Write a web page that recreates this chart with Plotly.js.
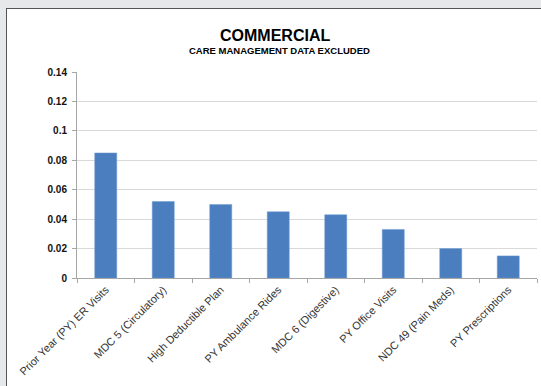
<!DOCTYPE html>
<html><head><meta charset="utf-8">
<script src="https://cdn.plot.ly/plotly-3.0.1.min.js"></script>
<style>
html,body{margin:0;padding:0;width:541px;height:386px;overflow:hidden;background:#e7e8ea;}
#frame{position:absolute;left:6px;top:8px;width:560px;height:400px;background:#fff;border:1px solid #555;box-sizing:border-box;}
#chart{position:absolute;left:0;top:0;width:541px;height:386px;}
</style></head>
<body><div id="frame"></div><div id="chart"></div>
<script>
const categories = ["Prior Year (PY) ER Visits","MDC 5 (Circulatory)","High Deductible Plan","PY Ambulance Rides","MDC 6 (Digestive)","PY Office Visits","NDC 49 (Pain Meds)","PY Prescriptions"];
const values = [0.085, 0.052, 0.050, 0.045, 0.043, 0.033, 0.020, 0.015];
const yTicks = [0, 0.02, 0.04, 0.06, 0.08, 0.1, 0.12, 0.14];
const yTickText = ["0","0.02","0.04","0.06","0.08","0.1","0.12","0.14"];
const titleText = "COMMERCIAL";
const subtitleText = "CARE MANAGEMENT DATA EXCLUDED";

const font = "Liberation Sans, Arial, sans-serif";
Plotly.newPlot("chart", [{
  type: "bar", x: categories, y: values,
  marker: {color: "#4a7ebf", line: {color: "#6f9bd2", width: 0.5}}
}], {
  width: 541, height: 386,
  margin: {l: 77, r: 4, t: 72, b: 108},
  paper_bgcolor: "rgba(0,0,0,0)", plot_bgcolor: "rgba(0,0,0,0)",
  bargap: 0.617, showlegend: false,
  font: {family: font, color: "#222"},
  xaxis: {
    type: "category", tickangle: -45, tickfont: {size: 11, color: "#333"},
    showgrid: false, showline: true, linecolor: "#a6a6a6", linewidth: 1,
    ticks: "outside", tickson: "boundaries", ticklen: 4, tickcolor: "#a6a6a6"
  },
  yaxis: {
    range: [0, 0.14], tickvals: yTicks, ticktext: yTickText,
    tickfont: {size: 10, color: "#111", family: font, weight: "bold"},
    showgrid: true, gridcolor: "#d9d9d9", gridwidth: 1,
    showline: true, linecolor: "#a6a6a6", linewidth: 1, ticklabelstandoff: 3,
    ticks: "outside", ticklen: 4, tickcolor: "#a6a6a6", zeroline: false
  },
  annotations: [
    {text: "<b>" + titleText + "</b>", xref: "paper", yref: "paper", x: 0.430, y: 1.177,
     xanchor: "center", yanchor: "middle", showarrow: false, font: {size: 16, color: "#000"}},
    {text: "<b>" + subtitleText + "</b>", xref: "paper", yref: "paper", x: 0.440, y: 1.102,
     xanchor: "center", yanchor: "middle", showarrow: false, font: {size: 9.5, color: "#000"}}
  ]
}, {displayModeBar: false, staticPlot: true});
</script></body></html>
